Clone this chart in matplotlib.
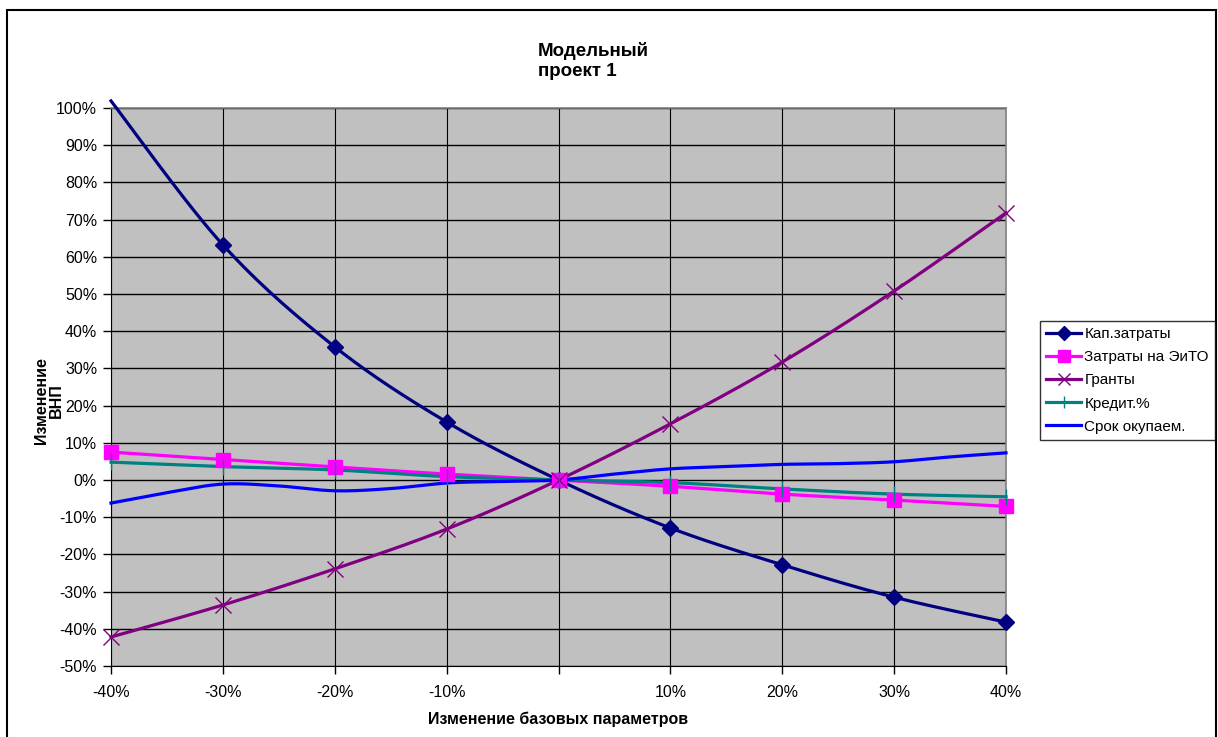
import numpy as np
import matplotlib
matplotlib.use("Agg")
import matplotlib.pyplot as plt
from matplotlib.lines import Line2D

plt.rcParams['font.family'] = ['Liberation Sans', 'DejaVu Sans']

# ---- data ----
x_main = [-40, -30, -20, -10, 0, 10, 20, 30, 40]
x_labels = ['-40%', '-30%', '-20%', '-10%', '', '10%', '20%', '30%', '40%']

kap = [101.9, 63.2, 35.8, 15.6, 0.0, -12.9, -22.8, -31.5, -38.2]
eito = [7.5, 5.5, 3.5, 1.6, 0.0, -1.7, -3.8, -5.4, -7.1]
granty = [-42.2, -33.6, -23.9, -13.2, 0.0, 15.1, 31.7, 50.8, 71.8]
kredit = [4.8, 3.6, 2.7, 0.9, 0.0, -0.7, -2.4, -3.8, -4.5]

x_srok = [-40, -35, -30, -25, -20, -15, -10, -5, 0, 5, 10, 15, 20, 25, 30, 35, 40]
srok = [-6.2, -3.4, -1.1, -1.6, -2.9, -2.3, -0.8, -0.4, 0.0, 1.6, 3.0, 3.6, 4.2, 4.4, 4.9, 6.2, 7.3]

series_names = ['Кап.затраты', 'Затраты на ЭиТО', 'Гранты', 'Кредит.%', 'Срок окупаем.']
colors = ['#000080', '#FF00FF', '#800080', '#008080', '#0000FF']


def smooth(x, y, n=30):
    """Excel-style smoothed line (Catmull-Rom Bezier) through the data points."""
    x = np.asarray(x, float)
    y = np.asarray(y, float)
    px = np.concatenate([[x[0]], x, [x[-1]]])
    py = np.concatenate([[y[0]], y, [y[-1]]])
    xs, ys = [], []
    t = np.linspace(0, 1, n)
    for i in range(1, len(px) - 2):
        p0 = np.array([px[i], py[i]])
        p3 = np.array([px[i + 1], py[i + 1]])
        p1 = p0 + (np.array([px[i + 1], py[i + 1]]) - np.array([px[i - 1], py[i - 1]])) / 6
        p2 = p3 - (np.array([px[i + 2], py[i + 2]]) - np.array([px[i], py[i]])) / 6
        b = ((1 - t) ** 3)[:, None] * p0 + (3 * (1 - t) ** 2 * t)[:, None] * p1 + \
            (3 * (1 - t) * t ** 2)[:, None] * p2 + (t ** 3)[:, None] * p3
        xs.extend(b[:, 0])
        ys.extend(b[:, 1])
    return np.array(xs), np.array(ys)


fig = plt.figure(figsize=(12.18, 7.37), dpi=100)
ax = fig.add_axes([111 / 1218, (737 - 666) / 737, 895 / 1218, 558 / 737])
ax.set_facecolor('#C0C0C0')

ax.set_xlim(-40, 40)
ax.set_ylim(-50, 100)

# grid
for yv in range(-50, 101, 10):
    ax.axhline(yv, color='#000000', lw=1.0, zorder=1)
for xv in x_main:
    ax.axvline(xv, color='#000000', lw=0.8, zorder=1)

lw = 2.3
# Кап.затраты
sx, sy = smooth(x_main, kap)
ax.plot(sx, sy, color=colors[0], lw=lw, zorder=3, clip_on=False)
ax.plot(x_main[1:], kap[1:], ls='none', marker='D', ms=8, color=colors[0], zorder=4, clip_on=False)
# Затраты на ЭиТО
sx, sy = smooth(x_main, eito)
ax.plot(sx, sy, color=colors[1], lw=lw, zorder=3, clip_on=False)
ax.plot(x_main, eito, ls='none', marker='s', ms=10, color=colors[1], zorder=4, clip_on=False)
# Гранты
sx, sy = smooth(x_main, granty)
ax.plot(sx, sy, color=colors[2], lw=lw, zorder=3, clip_on=False)
ax.plot(x_main, granty, ls='none', marker='x', ms=11, mew=1.0, color=colors[2], zorder=4, clip_on=False)
# Кредит.%
sx, sy = smooth(x_main, kredit)
ax.plot(sx, sy, color=colors[3], lw=lw, zorder=3, clip_on=False)
ax.plot(x_main, kredit, ls='none', marker='|', ms=11, mew=1.0, color=colors[3], zorder=4, clip_on=False)
# Срок окупаем.
sx, sy = smooth(x_srok, srok)
ax.plot(sx, sy, color=colors[4], lw=lw, zorder=3, clip_on=False)

# axes styling
for s in ['top', 'right']:
    ax.spines[s].set_color('#808080')
    ax.spines[s].set_linewidth(1.2)
ax.spines['left'].set_color('#000000')
ax.spines['bottom'].set_color('#000000')
ax.set_xticks(x_main)
ax.set_xticklabels(x_labels, fontsize=11.5)
ax.set_yticks(range(-50, 101, 10))
ax.set_yticklabels([f'{v}%' for v in range(-50, 101, 10)], fontsize=11.5)
ax.tick_params(direction='out', length=6, width=1, color='#000000', pad=4)
ax.tick_params(axis='x', pad=8)

ax.set_xlabel('Изменение базовых параметров', fontsize=11.5, fontweight='bold', labelpad=8)
fig.text(0.040, 0.457, 'Изменение\nВНП', rotation=90, ha='center', va='center',
         fontsize=11.5, fontweight='bold', linespacing=1.0)

fig.text(538 / 1218, 1 - 61 / 737, 'Модельный\nпроект 1', ha='left', va='center',
         fontsize=13.5, fontweight='bold', linespacing=1.2)

handles = [
    Line2D([], [], color=colors[0], lw=lw, marker='D', ms=7),
    Line2D([], [], color=colors[1], lw=lw, marker='s', ms=8),
    Line2D([], [], color=colors[2], lw=lw, marker='x', ms=9, mew=1.0),
    Line2D([], [], color=colors[3], lw=lw, marker='|', ms=9, mew=1.0),
    Line2D([], [], color=colors[4], lw=lw),
]
leg = fig.legend(handles, series_names, loc='upper left',
                 bbox_to_anchor=(1040 / 1218, 1 - 321 / 737),
                 fontsize=11, frameon=True, fancybox=False, handlelength=2.3,
                 handletextpad=0.2, borderpad=0.4, borderaxespad=0,
                 labelspacing=0.6)
leg.get_frame().set_edgecolor('#000000')
leg.get_frame().set_linewidth(1.0)

# outer chart border
border = plt.Rectangle((7 / 1218, -0.01), (1216 - 7) / 1218, 1 - 10 / 737 + 0.01,
                       transform=fig.transFigure, fill=False, edgecolor='#000000', lw=1.5)
fig.add_artist(border)

fig.savefig('out.png', dpi=100)
